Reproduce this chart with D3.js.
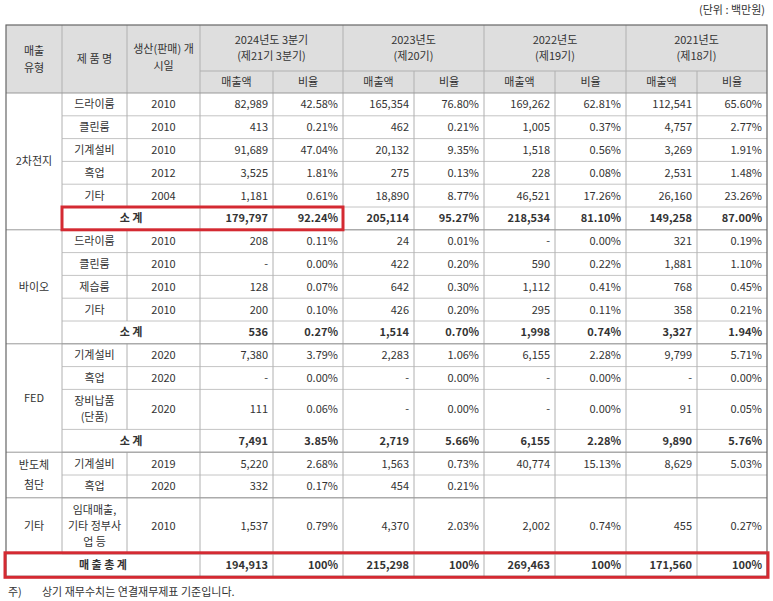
<!DOCTYPE html>
<html><head><meta charset="utf-8">
<script src="https://cdn.jsdelivr.net/npm/d3@7"></script>
<style>body{margin:0;background:#fff}svg{display:block}text{font-family:"Noto Sans CJK KR","Noto Sans",sans-serif;fill:#333}</style>
</head><body><svg id="c" width="773" height="601"></svg>
<script>
const periods = ["2024년도 3분기|(제21기 3분기)","2023년도|(제20기)","2022년도|(제19기)","2021년도|(제18기)"];
const groups = ["2차전지","바이오","FED","반도체|첨단","기타"];
const rowGroup = [0,0,0,0,0,0, 1,1,1,1,1, 2,2,2,2, 3,3, 4];
const rowKind  = ["d","d","d","d","d","s", "d","d","d","d","s", "d","d","d","s", "d","d", "d"];
const products = ["드라이룸","클린룸","기계설비","흑업","기타","소 계",
  "드라이룸","클린룸","제습룸","기타","소 계",
  "기계설비","흑업","장비납품|(단품)","소 계",
  "기계설비","흑업","임대매출,|기타 정부사|업 등"];
const years = ["2010","2010","2010","2012","2004","", "2010","2010","2010","2010","", "2020","2020","2020","", "2019","2020","2010"];
const values = [
 ["82,989","42.58%","165,354","76.80%","169,262","62.81%","112,541","65.60%"],
 ["413","0.21%","462","0.21%","1,005","0.37%","4,757","2.77%"],
 ["91,689","47.04%","20,132","9.35%","1,518","0.56%","3,269","1.91%"],
 ["3,525","1.81%","275","0.13%","228","0.08%","2,531","1.48%"],
 ["1,181","0.61%","18,890","8.77%","46,521","17.26%","26,160","23.26%"],
 ["179,797","92.24%","205,114","95.27%","218,534","81.10%","149,258","87.00%"],
 ["208","0.11%","24","0.01%","-","0.00%","321","0.19%"],
 ["-","0.00%","422","0.20%","590","0.22%","1,881","1.10%"],
 ["128","0.07%","642","0.30%","1,112","0.41%","768","0.45%"],
 ["200","0.10%","426","0.20%","295","0.11%","358","0.21%"],
 ["536","0.27%","1,514","0.70%","1,998","0.74%","3,327","1.94%"],
 ["7,380","3.79%","2,283","1.06%","6,155","2.28%","9,799","5.71%"],
 ["-","0.00%","-","0.00%","-","0.00%","-","0.00%"],
 ["111","0.06%","-","0.00%","-","0.00%","91","0.05%"],
 ["7,491","3.85%","2,719","5.66%","6,155","2.28%","9,890","5.76%"],
 ["5,220","2.68%","1,563","0.73%","40,774","15.13%","8,629","5.03%"],
 ["332","0.17%","454","0.21%","","","",""],
 ["1,537","0.79%","4,370","2.03%","2,002","0.74%","455","0.27%"]
];
const totals = ["194,913","100%","215,298","100%","269,463","100%","171,560","100%"];

const svg = d3.select("#c");
const colX = [6,62,127,200,273,343,414,484,555,626,697,767];
const rowH = rowKind.map((k,i)=> products[i].split("|").length===3?56:(products[i].split("|").length===2?40:22.8));
const top0=25, hMid=71, hBot=93;
const ys=[hBot]; rowH.forEach(h=>ys.push(ys[ys.length-1]+h));
const totTop=ys[ys.length-1], totBot=totTop+22.5;
const fs=11;
function mtext(x,y,str,anchor,bold,lh){
  const parts=str.split("|"); lh=lh||15;
  const t=svg.append("text").attr("x",x).attr("text-anchor",anchor).attr("font-size",fs).attr("font-weight",bold?"bold":"normal");
  parts.forEach((p,i)=>t.append("tspan").attr("x",x).attr("y",y+(i-(parts.length-1)/2)*lh+4).text(p));
}
const line=(x1,y1,x2,y2,c,w)=>svg.append("line").attr("x1",x1).attr("y1",y1).attr("x2",x2).attr("y2",y2).attr("stroke",c||"#b0b0b0").attr("stroke-width",w||1);
svg.append("rect").attr("x",colX[0]).attr("y",top0).attr("width",colX[11]-colX[0]).attr("height",hBot-top0).attr("fill","#dedede");
mtext(765,10,"(단위 : 백만원)","end");
mtext((colX[0]+colX[1])/2,(top0+hBot)/2,"매출|유형","middle",false,17);
mtext((colX[1]+colX[2])/2,(top0+hBot)/2,"제 품 명","middle");
mtext((colX[2]+colX[3])/2,(top0+hBot)/2-2,"생산(판매) 개|시일","middle",false,17);
periods.forEach((p,i)=>{
  const a=colX[3+2*i], b=colX[5+2*i];
  mtext((a+b)/2,(top0+hMid)/2,p,"middle",false,16);
  mtext((a+colX[4+2*i])/2,(hMid+hBot)/2,"매출액","middle");
  mtext((colX[4+2*i]+b)/2,(hMid+hBot)/2,"비율","middle");
  line(a,hMid,b,hMid);
  line(colX[4+2*i],hMid,colX[4+2*i],hBot);
});
rowKind.forEach((k,i)=>{
  const y0=ys[i], y1=ys[i+1], cy=(y0+y1)/2, bold=k==="s";
  if(k==="s") mtext((colX[1]+colX[3])/2,cy,products[i],"middle",true);
  else { mtext((colX[1]+colX[2])/2,cy,products[i],"middle",false,16); mtext((colX[2]+colX[3])/2,cy,years[i],"middle"); }
  values[i].forEach((v,j)=>{ if(v) mtext(colX[4+j]-5,cy,v,"end",bold); });
  line(colX[1],y1,colX[11],y1, "#c4c4c4");
  for(let c=1;c<11;c++){ if(k==="s"&&c===2) continue; line(colX[c],y0,colX[c],y1,"#b0b0b0"); }
});
groups.forEach((g,gi)=>{
  const idx=rowGroup.map((r,i)=>r===gi?i:-1).filter(i=>i>=0);
  const y0=ys[idx[0]], y1=ys[idx[idx.length-1]+1];
  mtext((colX[0]+colX[1])/2,(y0+y1)/2,g,"middle",false,20);
  line(colX[0],y1,colX[11],y1,"#999");
});
mtext((colX[0]+colX[3])/2,(totTop+totBot)/2,"매 출 총 계","middle",true);
totals.forEach((v,j)=>mtext(colX[4+j]-5,(totTop+totBot)/2,v,"end",true));
for(let c=3;c<11;c++) line(colX[c],totTop,colX[c],totBot);
for(let c=1;c<11;c+=(c<3?1:2)) line(colX[c],top0,colX[c],hBot);
line(colX[0],hBot,colX[11],hBot,"#999");
svg.append("rect").attr("x",colX[0]).attr("y",top0).attr("width",colX[11]-colX[0]).attr("height",totBot-top0).attr("fill","none").attr("stroke","#666").attr("stroke-width",1.2);
svg.append("rect").attr("x",colX[1]).attr("y",ys[5]).attr("width",colX[5]-colX[1]).attr("height",ys[6]-ys[5]).attr("fill","none").attr("stroke","#d42a32").attr("stroke-width",3);
svg.append("rect").attr("x",colX[0]-1).attr("y",totTop-1).attr("width",colX[11]-colX[0]+2).attr("height",totBot-totTop+2).attr("fill","none").attr("stroke","#d42a32").attr("stroke-width",3);
mtext(8,592,"주)","start"); mtext(42,592,"상기 재무수치는 연결재무제표 기준입니다.","start");
</script></body></html>
